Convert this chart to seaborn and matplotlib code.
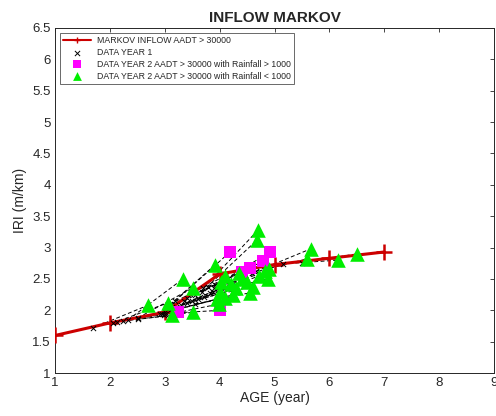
import matplotlib
matplotlib.use("Agg")
import matplotlib.pyplot as plt
import seaborn as sns
import pandas as pd
import numpy as np

# Markov curve
markov_age = [1, 2, 3, 4, 5, 6, 7]
markov_iri = [1.60, 1.80, 1.97, 2.58, 2.73, 2.83, 2.93]

# Rainfall < 1000 (green): year1 -> year2 pairs
g_age1 = [1.69, 2.06, 2.13, 2.33, 2.51, 2.51, 2.91, 3.70, 3.68, 4.66, 4.59, 5.15, 5.50,
          3.00, 3.10, 3.20, 3.30, 3.40, 3.50, 3.60, 3.72, 3.82, 3.88, 3.10, 3.35, 2.95,
          3.25, 3.55, 3.90, 3.02, 2.98]
g_iri1 = [1.72, 1.80, 1.82, 1.85, 1.88, 1.86, 1.95, 2.35, 2.30, 2.62, 2.60, 2.74, 2.76,
          1.98, 2.00, 2.05, 2.08, 2.12, 2.15, 2.18, 2.22, 2.28, 2.30, 2.10, 2.15, 1.95,
          2.02, 2.10, 2.35, 2.05, 1.92]
g_age2 = [2.69, 3.06, 3.13, 3.33, 3.51, 3.51, 3.91, 4.70, 4.68, 5.66, 5.59, 6.15, 6.50,
          4.00, 4.10, 4.20, 4.30, 4.40, 4.50, 4.60, 4.72, 4.82, 4.88, 4.10, 4.35, 3.95,
          4.25, 4.55, 4.90, 4.02, 3.98]
g_iri2 = [2.08, 2.12, 1.92, 2.50, 2.36, 1.97, 2.72, 3.28, 3.12, 2.98, 2.82, 2.80, 2.90,
          2.30, 2.20, 2.42, 2.35, 2.50, 2.45, 2.38, 2.55, 2.62, 2.50, 2.55, 2.60, 2.18,
          2.25, 2.28, 2.66, 2.45, 2.10]

# Rainfall > 1000 (magenta): year1 -> year2 pairs
m_age1 = [3.19, 3.92, 3.00, 2.24, 3.55, 3.79, 3.40]
m_iri1 = [2.15, 2.40, 1.95, 1.83, 2.25, 2.38, 2.20]
m_age2 = [4.19, 4.92, 4.00, 3.24, 4.55, 4.79, 4.40]
m_iri2 = [2.93, 2.93, 2.00, 1.97, 2.67, 2.78, 2.61]

sns.set_style("white")
plt.rcParams['font.family'] = ['Liberation Sans', 'DejaVu Sans']

fig = plt.figure(figsize=(4.96, 4.16), dpi=100)
ax = fig.add_axes([0.111, 0.103, 0.885, 0.830])

age1 = g_age1 + m_age1
iri1 = g_iri1 + m_iri1
age2 = g_age2 + m_age2
iri2 = g_iri2 + m_iri2

# dashed connectors
for a1, r1, a2, r2 in zip(age1, iri1, age2, iri2):
    ax.plot([a1, a2], [r1, r2], ls=(0, (4, 2.5)), color='black', lw=0.7, zorder=2)

df_m = pd.DataFrame({"AGE": markov_age, "IRI": markov_iri})
sns.lineplot(data=df_m, x="AGE", y="IRI", ax=ax, color='#cc0000', lw=2.2,
             marker='+', markersize=11, markeredgewidth=1.8, markeredgecolor='#cc0000',
             label='MARKOV INFLOW AADT > 30000', zorder=3)

df1 = pd.DataFrame({"AGE": age1, "IRI": iri1})
sns.scatterplot(data=df1, x="AGE", y="IRI", ax=ax, marker='x', color='black',
                s=14, linewidth=0.7, label='DATA YEAR 1', zorder=4)

dfm = pd.DataFrame({"AGE": m_age2, "IRI": m_iri2})
sns.scatterplot(data=dfm, x="AGE", y="IRI", ax=ax, marker='s', color='#ff00ff',
                s=70, linewidth=0, label='DATA YEAR 2 AADT > 30000 with Rainfall > 1000', zorder=5)

dfg = pd.DataFrame({"AGE": g_age2, "IRI": g_iri2})
sns.scatterplot(data=dfg, x="AGE", y="IRI", ax=ax, marker='^', color='#00ee00',
                s=110, linewidth=0, label='DATA YEAR 2 AADT > 30000 with Rainfall < 1000', zorder=6)

ax.set_xlim(1, 9)
ax.set_ylim(1, 6.5)
ax.set_xticks(np.arange(1, 10, 1))
ax.set_yticks(np.arange(1, 6.51, 0.5))
ax.set_yticklabels([f"{v:g}" for v in np.arange(1, 6.51, 0.5)])
ax.tick_params(direction='in', length=3, width=0.6, labelsize=9.5, colors='#262626',
               top=True, right=True, pad=3)
for s in ax.spines.values():
    s.set_color('#262626')
    s.set_linewidth(0.7)

ax.set_xlabel('AGE (year)', fontsize=10, color='#262626', labelpad=1)
ax.set_ylabel('IRI (m/km)', fontsize=10, color='#262626', labelpad=4)
ax.set_title('INFLOW MARKOV', fontsize=11, fontweight='bold', pad=4)

leg = ax.legend(loc='upper left', fontsize=6.3, frameon=True, fancybox=False,
                edgecolor='#262626', borderpad=0.35, handlelength=3.2, labelspacing=0.32,
                borderaxespad=0.6, handletextpad=0.6)
leg.get_frame().set_linewidth(0.6)
hs = leg.legend_handles
hs[0].set_markersize(5)
hs[0].set_markeredgewidth(1.0)
hs[0].set_linewidth(1.5)
hs[1].set_sizes([14])
hs[2].set_sizes([30])
hs[3].set_sizes([40])

fig.savefig('out.png', dpi=100)
